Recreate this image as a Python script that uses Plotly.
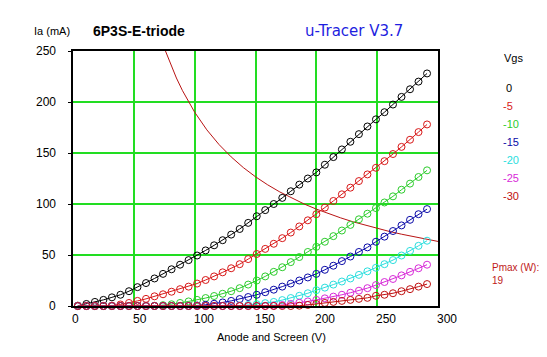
import plotly.graph_objects as go

# ---------------- data ----------------
va = [4, 11, 18, 25, 32, 39, 46, 53, 60, 67, 74, 81, 88, 95, 102, 109, 116, 123, 130, 137, 144,
      151, 158, 165, 172, 179, 186, 193, 200, 207, 214, 221, 228, 235, 242, 249, 256, 263, 270, 277, 284, 291]

ia_0 = [0.3, 2, 4, 6, 8.5, 11, 14.5, 18.5, 22.5, 27, 31.5, 36, 40.5, 45, 49.5, 54.5, 59.5, 64.5, 70, 75.5, 81.5,
        88, 94, 100, 106, 112.5, 119, 125, 131, 138.5, 146, 153.5, 161, 168.5, 176, 183, 190, 197.5, 205, 212.5, 220, 228]
ia_m5 = [0, 0, 0, 0, 0.3, 1.5, 3, 5, 7, 9.5, 11.5, 14, 16.5, 19, 22, 25.5, 29, 33, 37, 41, 46,
         51, 56, 61, 66.5, 72, 78, 84, 90, 96.5, 103, 109.5, 116, 122.5, 129, 135.5, 142, 149, 156, 163, 170.5, 178]
ia_m10 = [0, 0, 0, 0, 0, 0, 0, 0, 0, 0.2, 0.8, 1.7, 3, 4.5, 6, 7.8, 9.8, 12, 14.5, 17.5, 21,
          25, 29, 33.5, 38, 43, 48, 53, 58, 63, 68.5, 74, 79.5, 85, 90.5, 96, 101.5, 107.5, 114, 120, 126.5, 133]
ia_m15 = [0, 0, 0, 0, 0, 0, 0, 0, 0, 0, 0, 0, 0, 0.1, 0.5, 1.2, 2.2, 3.5, 5, 6.8, 8.8,
          11, 13.5, 16, 19, 22, 25, 28, 31.5, 35.5, 39.5, 44, 48.5, 53, 57.5, 63, 68, 73.5, 79, 84.5, 90, 95]
ia_m20 = [0, 0, 0, 0, 0, 0, 0, 0, 0, 0, 0, 0, 0, 0, 0, 0, 0, 0, 0.1, 0.5, 1,
          1.8, 2.8, 4, 5.8, 7.8, 10, 12.5, 15.5, 18, 21, 24, 27, 30.5, 34, 37.5, 41, 45, 49.5, 54, 59, 64]
ia_m25 = [0, 0, 0, 0, 0, 0, 0, 0, 0, 0, 0, 0, 0, 0, 0, 0, 0, 0, 0, 0, 0,
          0, 0, 0.3, 1, 2, 3.2, 4.5, 6, 7.5, 9.2, 11, 13, 15, 17.5, 20.5, 23.5, 26.5, 30, 33.5, 37, 40.5]
ia_m30 = [0, 0, 0, 0, 0, 0, 0, 0, 0, 0, 0, 0, 0, 0, 0, 0, 0, 0, 0, 0, 0,
          0, 0, 0, 0, 0, 0.3, 1, 2, 3, 4, 5, 6, 7, 8, 10, 11, 12.5, 14.5, 16.5, 19, 21.5]

vgs_labels = ["0", "-5", "-10", "-15", "-20", "-25", "-30"]
series = [ia_0, ia_m5, ia_m10, ia_m15, ia_m20, ia_m25, ia_m30]
colors = ["#000000", "#d81818", "#2ccc2c", "#0a0aa8", "#2adede", "#d82ad8", "#c01010"]

pmax_w = 19
pmax_va = [76, 80, 85, 90, 95, 100, 110, 120, 130, 140, 150, 160, 170, 180, 190, 200,
           210, 220, 230, 240, 250, 260, 270, 280, 290, 300]
pmax_ia = [250, 237.5, 223.5, 211.1, 200, 190, 172.7, 158.3, 146.2, 135.7, 126.7, 118.8, 111.8, 105.6, 100, 95,
           90.5, 86.4, 82.6, 79.2, 76, 73.1, 70.4, 67.9, 65.5, 63.3]

x_ticks = [0, 50, 100, 150, 200, 250, 300]
y_ticks = [0, 50, 100, 150, 200, 250]

FONT = "Liberation Sans, Arial, sans-serif"

fig = go.Figure()

fig.add_trace(go.Scatter(x=pmax_va, y=pmax_ia, mode="lines",
                         line=dict(color="#b81414", width=1), hoverinfo="skip"))

for ys, c in zip(series, colors):
    fig.add_trace(go.Scatter(x=va, y=ys, mode="lines+markers",
                             line=dict(color=c, width=1),
                             marker=dict(symbol="circle-open", size=7, color=c, line=dict(width=1, color=c)),
                             cliponaxis=False))

# page body has an 8px margin: compensate so plot sits at x 73..438, y 51..306 in the window
fig.update_layout(
    width=539, height=349,
    margin=dict(l=65, r=109, t=43, b=51),
    paper_bgcolor="white", plot_bgcolor="white",
    showlegend=False,
    font=dict(family=FONT, size=11, color="black"),
)

fig.update_xaxes(range=[0, 300], tickvals=x_ticks, showticklabels=False,
                 showgrid=True, gridcolor="#22dd22", gridwidth=1.5,
                 showline=True, linecolor="black", linewidth=1.5, mirror=True,
                 zeroline=False, ticks="")
fig.update_yaxes(range=[0, 250], tickvals=y_ticks, showticklabels=False,
                 showgrid=True, gridcolor="#22dd22", gridwidth=1.5,
                 showline=True, linecolor="black", linewidth=1.5, mirror=True,
                 zeroline=False, ticks="outside", ticklen=3, tickcolor="black")

ann = []
for t in x_ticks:
    ann.append(dict(x=t, y=0, xref="x", yref="paper", text=str(t), showarrow=False,
                    xanchor="left", yanchor="top", xshift=-3, yshift=-4,
                    font=dict(size=12, family=FONT)))
for t in y_ticks:
    ann.append(dict(x=0, y=t, xref="paper", yref="y", text=str(t), showarrow=False,
                    xanchor="right", yanchor="middle", xshift=-15,
                    font=dict(size=12, family=FONT)))

ann.append(dict(x=150, y=0, xref="x", yref="paper", text="Anode and Screen (V)", showarrow=False,
                xanchor="center", yanchor="middle", xshift=16, yshift=-31, font=dict(size=11, family=FONT)))
ann.append(dict(x=0, y=1, xref="paper", yref="paper", text="Ia (mA)", showarrow=False,
                xanchor="left", yanchor="middle", xshift=-41, yshift=20, font=dict(size=11, family=FONT)))
ann.append(dict(x=0, y=1, xref="paper", yref="paper", text="<b>6P3S-E-triode</b>", showarrow=False,
                xanchor="left", yanchor="middle", xshift=18, yshift=20, font=dict(size=14, family=FONT)))
ann.append(dict(x=1, y=1, xref="paper", yref="paper", text="u-Tracer V3.7", showarrow=False,
                xanchor="right", yanchor="middle", xshift=-33, yshift=20,
                font=dict(size=15, family="DejaVu Sans, sans-serif", color="#1e1ee0")))

ann.append(dict(x=1, y=1, xref="paper", yref="paper", text="Vgs", showarrow=False,
                xanchor="left", yanchor="middle", xshift=64, yshift=-7, font=dict(size=11, family=FONT)))
for i, (lab, c) in enumerate(zip(vgs_labels, colors)):
    ann.append(dict(x=1, y=1, xref="paper", yref="paper", text=lab, showarrow=False,
                    xanchor="left", yanchor="middle", xshift=(66 if lab == "0" else 63),
                    yshift=-37 - 18 * i, font=dict(size=11, family=FONT, color=c)))
ann.append(dict(x=1, y=0, xref="paper", yref="paper", text="Pmax (W):<br>" + str(pmax_w), showarrow=False,
                xanchor="left", yanchor="middle", align="left", xshift=52, yshift=32,
                font=dict(size=10, family=FONT, color="#c01818")))

fig.update_layout(annotations=ann)

fig.write_html("out.html")
